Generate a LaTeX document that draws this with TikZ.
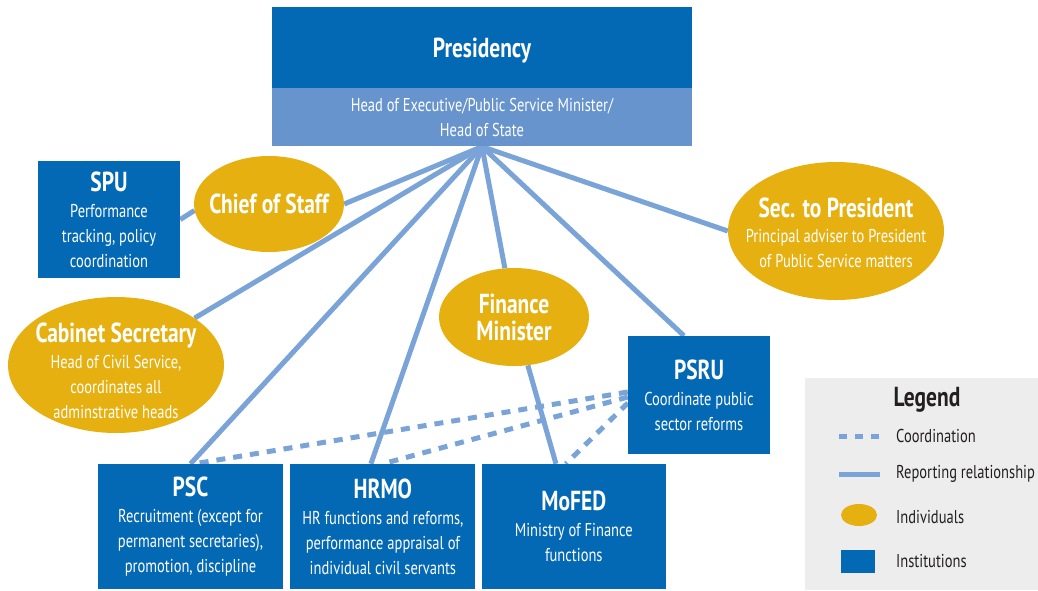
\documentclass[tikz,border=0pt]{standalone}
\usepackage{fontspec}
\setmainfont{PT Sans}[FakeStretch=0.78]
\usetikzlibrary{shapes.geometric,positioning,backgrounds}

\definecolor{instblue}{HTML}{0469B4}
\definecolor{bandblue}{HTML}{6894CE}
\definecolor{linkblue}{HTML}{7AA3D8}
\definecolor{indivgold}{HTML}{E6B010}
\definecolor{legendgray}{HTML}{EDEDED}
\definecolor{legendink}{HTML}{231F20}

\newcommand{\bodyfont}{\fontsize{18.6}{25}\selectfont}
\newcommand{\boxtitle}[1]{{\fontsize{27.5}{28}\selectfont\bfseries #1}}

\begin{document}
\begin{tikzpicture}[
  x=1pt, y=-1pt,
  font=\bodyfont,
  inst/.style={fill=instblue, text=white, align=center, inner sep=0pt},
  band/.style={fill=bandblue, text=white, align=center, inner sep=0pt},
  indiv/.style={ellipse, fill=indivgold, inner sep=0pt},
  indivtext/.style={text=white, align=center, font=\bodyfont},
  report/.style={draw=linkblue, line width=5pt},
  coord/.style={draw=linkblue, line width=5pt, dash pattern=on 9pt off 8pt},
  legendbox/.style={fill=legendgray, inner sep=0pt},
  legtext/.style={anchor=west, text=legendink, inner sep=0pt}
]
\useasboundingbox (0,0) rectangle (1038,590);

% institutions
\node[inst, minimum width=420, minimum height=81, text depth=0pt] (pres) at (482,47.5) {\boxtitle{Presidency}};
\node[band, minimum width=420, minimum height=58, below=0pt of pres] (presband) {
  Head of Executive/Public Service Minister/\\
  Head of State
};
\node[inst, minimum width=142, minimum height=117] (spu) at (109,219.5) {
  \boxtitle{SPU}\\[1pt]
  Performance\\
  tracking, policy\\
  coordination
};
\node[inst, minimum width=142, minimum height=118] (psru) at (699,395) {
  \boxtitle{PSRU}\\[1pt]
  Coordinate public\\
  sector reforms
};
\node[inst, minimum width=185, minimum height=125] (psc) at (190.5,526.5) {
  \boxtitle{PSC}\\[1pt]
  Recruitment (except for\\
  permanent secretaries),\\
  promotion, discipline
};
\node[inst, minimum width=185, minimum height=125, right=7pt of psc] (hrmo) {
  \boxtitle{HRMO}\\[1pt]
  HR functions and reforms,\\
  performance appraisal of\\
  individual civil servants
};
\node[inst, minimum width=184, minimum height=125, right=6pt of hrmo] (mofed) {
  \boxtitle{MoFED}\\[1pt]
  Ministry of Finance\\
  functions
};

% individuals
\node[indiv, minimum width=150, minimum height=96,
  label={[indivtext]center:\boxtitle{Chief of Staff}}] (chief) at (269,204) {};
\node[indiv, minimum width=216, minimum height=136,
  label={[indivtext, yshift=-6pt]center:\boxtitle{Cabinet Secretary}\\[1pt]Head of Civil Service,\\coordinates all\\adminstrative heads}] (cabsec) at (116,365) {};
\node[indiv, minimum width=216, minimum height=138,
  label={[indivtext, yshift=-2pt]center:\boxtitle{Sec. to President}\\[0pt]Principal adviser to President\\of Public Service matters}] (secpres) at (836,231) {};
\node[indiv, minimum width=150, minimum height=98,
  label={[indivtext]center:\boxtitle{Finance}\\[2pt]\boxtitle{Minister}}] (finmin) at (514,317) {};

% links
\begin{scope}[on background layer]
  \draw[report] (presband.south) -- (chief.east);
  \draw[report] (spu.east) -- (chief.185);
  \draw[report] (presband.south) -- (cabsec);
  \draw[report] (presband.south) -- (psc.north);
  \draw[report] (presband.south) -- ([xshift=-12pt]hrmo.north);
  \draw[report] (presband.south) -- (finmin);
  \draw[report] (finmin) -- (mofed);
  \draw[report] (presband.south) -- ([xshift=-15pt]psru.north);
  \draw[report] (presband.south) -- (secpres.west);
  \draw[coord] ([yshift=3pt]psru.west) -- ([xshift=4pt]psc.north);
  \draw[coord] ([yshift=-2pt]psru.west) -- (hrmo.north);
  \draw[coord] ([yshift=-8pt]psru.west) -- ([xshift=-8pt]mofed.north);
\end{scope}

% legend
\node[legendbox, minimum width=240, minimum height=212] (legend) at (925,484) {};
\node[text=legendink] (legtitle) at (927,400) {\boxtitle{Legend}};
\node[legtext] (lcoord) at (896,436) {Coordination};
\node[legtext] (lreport) at (896,474) {Reporting relationship};
\node[legtext] (lindiv) at (896,517) {Individuals};
\node[legtext] (linst) at (896,561) {Institutions};
\draw[draw=linkblue, line width=5pt, dash pattern=on 8pt off 8pt] ([xshift=-57pt]lcoord.west) -- ([xshift=-16pt]lcoord.west);
\draw[report] ([xshift=-57pt]lreport.west) -- ([xshift=-16pt]lreport.west);
\node[indiv, minimum width=36, minimum height=22] (legindiv) at (859,515) {};
\node[inst, minimum width=34, minimum height=23] (leginst) at (858,561.5) {};

\end{tikzpicture}
\end{document}
